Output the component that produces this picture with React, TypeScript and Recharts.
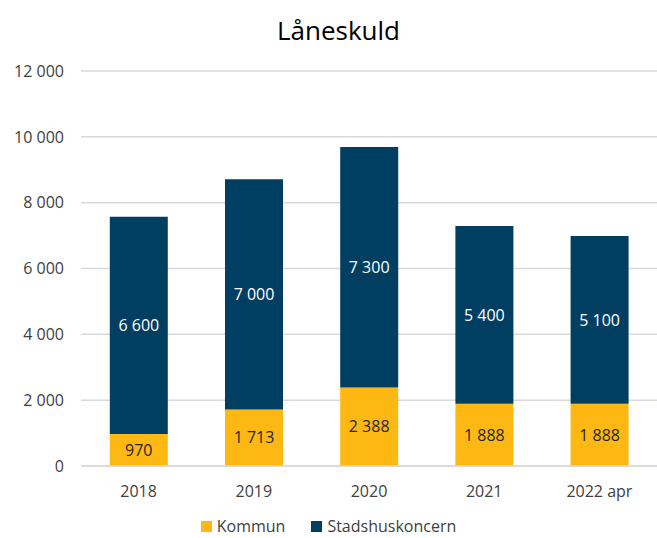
import { BarChart, Bar, XAxis, YAxis, CartesianGrid, Legend, LabelList } from "recharts";

const years = ["2018", "2019", "2020", "2021", "2022 apr"];
const kommun = [970, 1713, 2388, 1888, 1888];
const stadshus = [6600, 7000, 7300, 5400, 5100];
const yTicks = [0, 2000, 4000, 6000, 8000, 10000, 12000];

const YELLOW = "#FDB813";
const NAVY = "#003F62";
const FONT = "'Open Sans', sans-serif";

const data = years.map((year, i) => ({
  year,
  kommun: kommun[i],
  stadshus: stadshus[i],
}));

const fmt = (v: number | string) =>
  String(v).replace(/\B(?=(\d{3})+(?!\d))/g, " ");

const legendItems = [
  { label: "Kommun", color: YELLOW },
  { label: "Stadshuskoncern", color: NAVY },
];

function LegendContent() {
  return (
    <div
      style={{
        height: 42,
        boxSizing: "border-box",
        paddingBottom: 3,
        display: "flex",
        alignItems: "flex-end",
        justifyContent: "center",
        fontFamily: FONT,
        fontSize: 16,
        color: "#404040",
        lineHeight: "18px",
      }}
    >
      {legendItems.map((it, i) => (
        <div
          key={it.label}
          style={{ display: "flex", alignItems: "center", marginLeft: i ? 26 : 0 }}
        >
          <span
            style={{ width: 11, height: 11, background: it.color, marginRight: 5, display: "inline-block" }}
          />
          <span>{it.label}</span>
        </div>
      ))}
    </div>
  );
}

export default function App() {
  return (
    <div style={{ position: "absolute", left: 0, top: 0, width: 657, height: 538, background: "#fff" }}>
      <div
        style={{
          position: "absolute",
          top: 17,
          left: 0,
          width: 677,
          textAlign: "center",
          fontFamily: FONT,
          fontSize: 26,
          lineHeight: "26px",
          color: "#000",
        }}
      >
        Låneskuld
      </div>
      <BarChart
        width={657}
        height={538}
        data={data}
        margin={{ top: 71, right: 0, bottom: 0, left: 0 }}
        barCategoryGap="25%"
        style={{ fontFamily: FONT }}
      >
        <CartesianGrid vertical={false} stroke="#d9d9d9" strokeWidth={1.5} />
        <XAxis
          dataKey="year"
          height={30}
          axisLine={{ stroke: "#d9d9d9", strokeWidth: 1.5 }}
          tickLine={false}
          tickMargin={14}
          tick={{ fill: "#404040", fontSize: 16 }}
        />
        <YAxis
          width={81}
          domain={[0, 12000]}
          ticks={yTicks}
          axisLine={false}
          tickLine={false}
          tickMargin={11}
          tickFormatter={fmt}
          tick={{ fill: "#404040", fontSize: 16 }}
        />
        <Legend verticalAlign="bottom" content={<LegendContent />} />
        <Bar dataKey="kommun" stackId="a" fill={YELLOW} isAnimationActive={false}>
          <LabelList dataKey="kommun" position="center" formatter={fmt} fill="#262626" fontSize={16} />
        </Bar>
        <Bar dataKey="stadshus" stackId="a" fill={NAVY} isAnimationActive={false}>
          <LabelList dataKey="stadshus" position="center" formatter={fmt} fill="#ffffff" fontSize={16} />
        </Bar>
      </BarChart>
    </div>
  );
}
